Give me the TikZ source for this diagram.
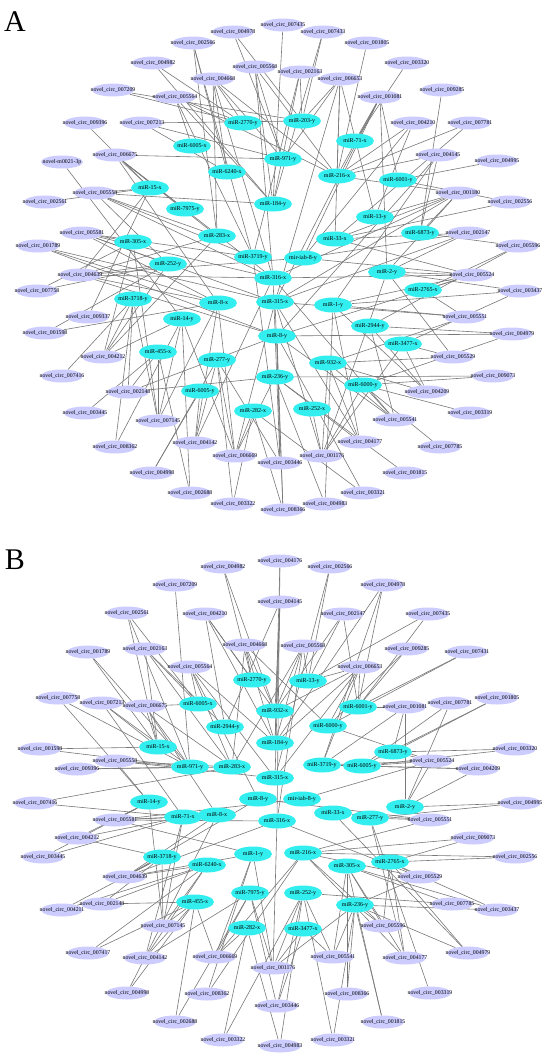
\documentclass[tikz,border=0pt]{standalone}
\usepackage{fontspec}
\setmainfont{Liberation Serif}
\usetikzlibrary{shapes.geometric}
\pgfdeclarelayer{edges}
\pgfsetlayers{edges,main}
\definecolor{circfill}{RGB}{204,204,255}
\definecolor{mirfill}{RGB}{51,238,238}
\definecolor{linkgray}{RGB}{120,120,120}
\newcommand{\flatlabel}[1]{\makebox[0pt]{#1}}

\tikzset{
  circ/.style={ellipse,fill=circfill,minimum width=42pt,minimum height=13pt,inner sep=0pt,font=\fontsize{5.8}{6}\selectfont},
  mir/.style={ellipse,fill=mirfill,minimum width=38pt,minimum height=15pt,inner sep=0pt,font=\fontsize{6}{6}\selectfont},
  link/.style={draw=linkgray,line width=0.6pt},
  panel/.style={font=\fontsize{30}{30}\selectfont}
}

\begin{document}
\begin{tikzpicture}[x=1pt,y=-1pt]
  \useasboundingbox (0,0) rectangle (550,1063);

  % panel A
  \node[panel] (panelA) at (15,22) {A};
  \foreach \n/\x/\y in {004978/233/32, 007435/283/25, 007433/323/32, 002566/193/43,
    001805/367/43, 004982/153/63, 003320/407/63, 005568/255/67, 002163/300/72,
    004668/213/79, 006653/340/79, 007209/113/90, 009285/442/90, 005564/175/97,
    001081/380/97, 009396/85/123, 007213/142/123, 004210/413/123, 007781/470/123,
    006675/115/155, 004145/438/155, 004995/497/161, 005558/95/193, 001180/458/193,
    002561/45/202, 002556/510/202, 005581/82/233, 002147/468/233, 001789/38/246,
    005596/518/246, 004639/80/275, 005524/472/275, 007758/37/291, 003437/520/291,
    009337/88/317, 005551/465/317, 001598/45/333, 004979/512/334, 004212/103/357,
    005529/453/357, 007416/62/376, 009073/493/376, 002148/128/392, 004209/427/392,
    003445/85/413, 003319/470/413, 007145/158/421, 005541/395/420, 004142/195/443,
    004177/360/442, 008362/115/447, 007785/440/447, 006669/235/456, 001176/322/456,
    003446/280/463, 004998/152/473, 001815/405/473, 002688/190/493, 003321/363/493,
    003322/233/504, 004983/325/504, 008366/283/510}
    \node[circ] (Ac\n) at (\x,\y) {\flatlabel{novel\_circ\_\n}};
  \node[circ] (Acm0021) at (62,162) {\flatlabel{novel-m0021-3p}};
  \foreach \n/\x/\y/\t in {2770y/243/123/miR-2770-y, 203y/302/121/miR-203-y,
    71x/355/141/miR-71-x, 6005x/192/146/miR-6005-x, 971y/283/159/miR-971-y,
    6240x/227/172/miR-6240-x, 216x/337/176/miR-216-x, 6001y/398/180/miR-6001-y,
    15x/150/188/miR-15-x, 184y/273/204/miR-184-y, 7975y/185/209/miR-7975-y,
    13y/375/217/miR-13-y, 6873y/420/233/miR-6873-y, 283x/217/236/miR-283-x,
    33x/335/239/miR-33-x, 305x/133/242/miR-305-x, 3719y/253/257/miR-3719-y,
    iab8y/303/258/mir-iab-8-y, 252y/168/264/miR-252-y, 2y/387/272/miR-2-y,
    316x/273/278/miR-316-x, 2765x/423/290/miR-2765-x, 3718y/133/299/miR-3718-y,
    315x/275/302/miR-315-x, 8x/218/303/miR-8-x, 1y/333/305/miR-1-y,
    14y/182/319/miR-14-y, 2944y/370/326/miR-2944-y, 8y/277/336/miR-8-y,
    3477x/403/344/miR-3477-x, 455x/158/352/miR-455-x, 277y/217/360/miR-277-y,
    932x/328/363/miR-932-x, 236y/275/377/miR-236-y, 6000y/363/385/miR-6000-y,
    6005y/200/391/miR-6005-y, 252x/312/409/miR-252-x, 282x/253/411/miR-282-x}
    \node[mir] (A\n) at (\x,\y) {\flatlabel{\t}};
  \begin{pgfonlayer}{edges}
  \foreach \c/\m in {004978/971y, 004978/203y, 007435/184y, 007433/184y, 007433/203y,
    002566/6240x, 002566/283x, 002566/3719y, 001805/216x, 004982/2770y, 004982/184y,
    003320/71x, 005568/971y, 005568/184y, 005568/216x, 005568/316x, 002163/203y,
    002163/184y, 002163/3719y, 004668/2770y, 004668/971y, 004668/216x, 004668/6240x,
    004668/316x, 004668/283x, 006653/203y, 006653/971y, 006653/216x, 006653/33x,
    006653/13y, 006653/315x, 007209/2770y, 007209/203y, 009285/6873y, 005564/2770y,
    005564/6005x, 005564/184y, 005564/216x, 005564/3719y, 001081/71x, 001081/216x,
    001081/6001y, 001081/2y, 001081/iab8y, 001081/315x, 009396/15x, 007213/203y,
    007213/971y, 007213/6240x, 004210/216x, 004210/13y, 004210/iab8y, 007781/216x,
    007781/33x, 006675/971y, 006675/15x, 006675/7975y, 006675/283x, 006675/316x,
    006675/8x, 004145/216x, 004145/6873y, 004145/8y, 004145/1y, 004995/6001y,
    005558/15x, 005558/283x, 005558/3719y, 005558/184y, 005558/252y, 005558/316x,
    001180/216x, 001180/13y, 001180/6873y, 001180/2y, 001180/33x, 001180/315x,
    001180/316x, 002561/15x, 002556/6001y, 002556/33x, 005581/305x, 005581/3719y,
    005581/316x, 005581/252y, 005581/8x, 005581/315x, 002147/33x, 002147/2y,
    002147/iab8y, 002147/315x, 001789/315x, 001789/8x, 001789/8y, 005596/2765x,
    005596/6873y, 005596/2944y, 004639/252y, 004639/283x, 004639/316x, 004639/15x,
    004639/8y, 004639/8x, 004639/iab8y, 005524/316x, 005524/iab8y, 005524/2y,
    005524/2765x, 005524/1y, 005524/33x, 005524/8y, 007758/305x, 007758/252y,
    003437/2y, 003437/1y, 003437/3477x, 009337/15x, 005551/315x, 005551/1y,
    005551/2765x, 005551/932x, 001598/252y, 001598/8x, 004979/2944y, 004979/8y,
    004979/6000y, 004212/305x, 004212/3718y, 004212/252y, 004212/14y, 004212/283x,
    005529/3477x, 005529/2y, 005529/932x, 007416/3718y, 009073/236y, 009073/6000y,
    002148/455x, 002148/236y, 002148/3718y, 002148/8y, 004209/3477x, 004209/932x,
    004209/1y, 004209/2944y, 003445/455x, 003319/6000y, 007145/455x, 007145/3718y,
    007145/14y, 007145/305x, 007145/8x, 005541/6000y, 005541/932x, 005541/8y,
    005541/2944y, 005541/316x, 004142/6005y, 004142/277y, 004142/8x, 004142/316x,
    004177/932x, 004177/236y, 004177/1y, 004177/315x, 008362/3718y, 008362/14y,
    007785/6000y, 006669/277y, 006669/282x, 006669/8x, 006669/236y, 006669/14y,
    006669/315x, 001176/6000y, 001176/3477x, 001176/932x, 001176/252x, 001176/315x,
    001176/2y, 003446/8y, 003446/277y, 003446/316x, 003446/3719y, 004998/6005y,
    004998/277y, 001815/236y, 002688/455x, 002688/14y, 003321/282x, 003321/8y,
    003322/277y, 003322/282x, 004983/236y, 004983/1y, 008366/282x, 008366/315x,
    008366/8y, m0021/14y}
    \draw[link] (Ac\c) -- (A\m);
  \end{pgfonlayer}

  % panel B
  \node[panel] (panelB) at (15,560) {B};
  \foreach \n/\x/\y in {004982/223/567, 004176/280/561, 002566/330/567, 007209/175/585,
    004978/383/585, 004145/280/602, 002561/127/613, 004210/205/614, 002147/343/614,
    007435/428/614, 004668/245/645, 005568/303/646, 002163/145/649, 009285/407/649,
    001789/88/652, 007431/467/652, 005564/190/667, 006653/360/667, 007758/58/698,
    001805/497/698, 007213/102/703, 007781/450/703, 006675/145/706, 001081/405/707,
    001598/40/749, 003320/515/749, 005558/115/761, 005524/432/761, 009396/77/769,
    004209/478/769, 007416/35/803, 004995/520/803, 005581/115/820, 005551/430/820,
    004212/77/838, 009073/473/838, 003445/43/857, 002556/515/857, 004639/125/877,
    005529/420/877, 002148/102/904, 007785/452/904, 004211/62/910, 003437/497/910,
    007145/163/926, 005596/383/926, 007417/88/953, 004979/468/953, 004142/145/958,
    006669/215/957, 005541/333/957, 004177/405/958, 001176/273/968, 004998/127/993,
    008362/207/994, 008366/347/994, 003319/430/993, 003446/277/1006, 002688/175/1022,
    001815/383/1022, 003322/223/1040, 003321/333/1040, 004983/280/1046}
    \node[circ] (Bc\n) at (\x,\y) {\flatlabel{novel\_circ\_\n}};
  \foreach \n/\x/\y/\t in {2770y/252/680/miR-2770-y, 13y/308/681/miR-13-y,
    6005x/198/704/miR-6005-x, 6001y/358/707/miR-6001-y, 932x/275/711/miR-932-x,
    2944y/225/727/miR-2944-y, 6000y/328/726/miR-6000-y, 184y/275/743/miR-184-y,
    15x/158/747/miR-15-x, 6873y/393/752/miR-6873-y, 3719y/322/765/miR-3719-y,
    6005y/362/766/miR-6005-y, 971y/190/767/miR-971-y, 283x/232/767/miR-283-x,
    315x/275/778/miR-315-x, iab8y/302/799/mir-iab-8-y, 8y/258/799/miR-8-y,
    14y/149/802/miR-14-y, 2y/405/807/miR-2-y, 33x/333/813/miR-33-x,
    71x/183/817/miR-71-x, 8x/217/815/miR-8-x, 277y/370/818/miR-277-y,
    316x/277/821/miR-316-x, 216x/303/853/miR-216-x, 1y/253/854/miR-1-y,
    3718y/162/857/miR-3718-y, 2765x/390/862/miR-2765-x, 305x/347/866/miR-305-x,
    6240x/207/865/miR-6240-x, 7975y/250/893/miR-7975-y, 252y/303/893/miR-252-y,
    455x/195/902/miR-455-x, 236y/355/905/miR-236-y, 282x/247/928/miR-282-x,
    3477x/303/929/miR-3477-x}
    \node[mir] (B\n) at (\x,\y) {\flatlabel{\t}};
  \begin{pgfonlayer}{edges}
  \foreach \c/\m in {004982/2770y, 004982/932x, 004176/184y, 004176/316x, 002566/13y,
    002566/315x, 007209/971y, 004978/6001y, 004978/3719y, 004978/184y, 004145/932x,
    004145/184y, 004145/315x, 004145/2944y, 002561/15x, 002561/971y, 002561/6005x,
    004210/2770y, 004210/932x, 004210/2944y, 004210/184y, 002147/13y, 002147/6001y,
    002147/932x, 007435/6001y, 007435/13y, 004668/2770y, 004668/932x, 004668/6000y,
    004668/184y, 004668/283x, 005568/13y, 005568/184y, 005568/932x, 005568/283x,
    005568/316x, 002163/6005x, 002163/2944y, 002163/283x, 002163/15x, 009285/6000y,
    009285/6001y, 001789/971y, 001789/15x, 007431/6001y, 007431/6000y, 005564/6005x,
    005564/184y, 005564/283x, 005564/315x, 005564/8y, 006653/13y, 006653/932x,
    006653/6001y, 006653/6000y, 006653/184y, 006653/3719y, 006653/315x, 007758/14y,
    007758/971y, 001805/6005y, 001805/6873y, 007213/971y, 007213/71x, 007213/15x,
    007781/2y, 007781/6005y, 006675/6005x, 006675/15x, 006675/971y, 006675/283x,
    006675/8x, 001081/6001y, 001081/6873y, 001081/3719y, 001081/2y, 001598/15x,
    001598/971y, 003320/6005y, 003320/6873y, 005558/971y, 005558/283x, 005558/315x,
    005558/14y, 005524/6005y, 005524/3719y, 005524/6000y, 005524/6873y, 005524/iab8y,
    005524/2y, 009396/971y, 009396/283x, 004209/6005y, 004209/2y, 004209/3719y,
    007416/283x, 007416/71x, 004995/2y, 004995/277y, 005581/14y, 005581/71x,
    005581/8x, 005581/316x, 005581/iab8y, 005581/1y, 005551/33x, 005551/277y,
    005551/2y, 005551/8y, 005551/216x, 004212/14y, 004212/71x, 004212/3718y,
    009073/2765x, 009073/216x, 003445/14y, 003445/71x, 002556/2765x, 002556/216x,
    004639/3718y, 004639/6240x, 004639/8x, 004639/1y, 004639/8y, 004639/316x,
    005529/2765x, 005529/216x, 005529/316x, 005529/236y, 002148/6240x, 002148/3718y,
    002148/455x, 007785/252y, 007785/305x, 004211/3718y, 004211/6240x, 003437/2765x,
    003437/305x, 003437/236y, 007145/455x, 007145/71x, 007145/14y, 007145/3718y,
    007145/6240x, 005596/305x, 005596/216x, 005596/236y, 005596/2765x, 007417/6240x,
    007417/455x, 004979/236y, 004979/33x, 004979/2765x, 004142/455x, 004142/7975y,
    004142/6240x, 004142/71x, 006669/455x, 006669/7975y, 006669/282x, 006669/1y,
    006669/216x, 005541/305x, 005541/252y, 005541/236y, 005541/3477x, 004177/305x,
    004177/216x, 004177/277y, 004177/2765x, 001176/3477x, 001176/252y, 001176/1y,
    001176/7975y, 001176/316x, 001176/236y, 004998/8x, 004998/455x, 008362/216x,
    008362/1y, 008366/236y, 008366/305x, 003319/277y, 003446/3477x, 003446/252y,
    003446/7975y, 002688/455x, 002688/7975y, 001815/236y, 001815/305x, 003322/252y,
    003322/282x, 003321/236y, 003321/252y, 004983/282x, 004983/252y}
    \draw[link] (Bc\c) -- (B\m);
  \end{pgfonlayer}
\end{tikzpicture}
\end{document}
